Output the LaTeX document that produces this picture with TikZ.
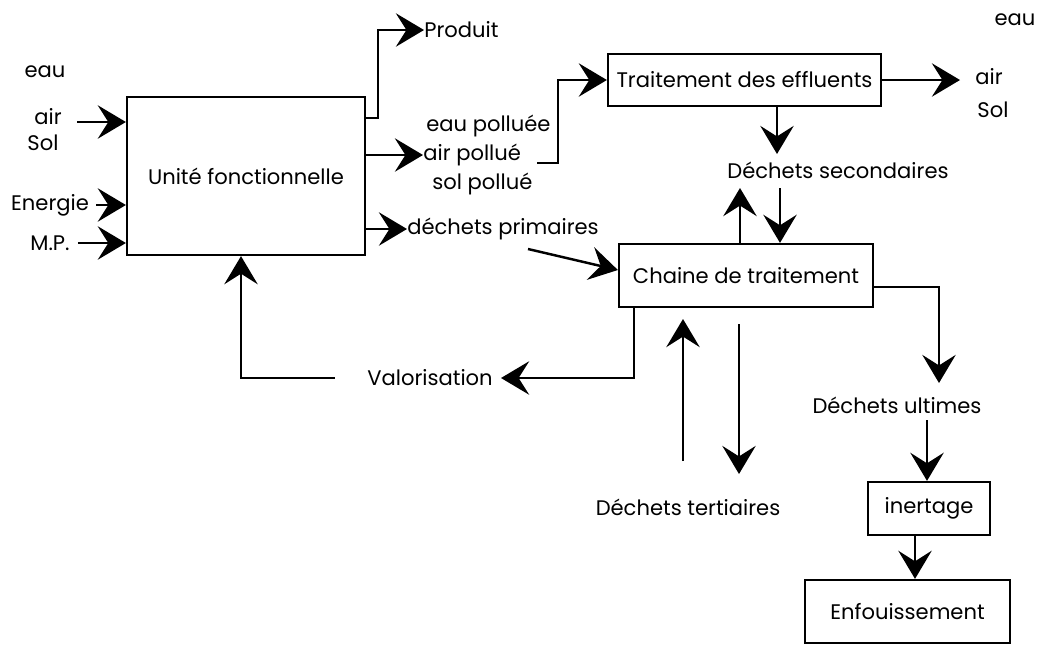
\documentclass[tikz,border=0pt]{standalone}
\usepackage{fontspec}
\setmainfont{Poppins}
\usetikzlibrary{arrows.meta}
\begin{document}
\begin{tikzpicture}[x=0.02cm,y=-0.02cm,
  box/.style={draw, line width=1.3pt, inner sep=0pt, font=\fontsize{12}{14}\selectfont},
  lbl/.style={inner sep=0pt, font=\fontsize{12}{14}\selectfont},
  arr/.style={line width=1.4pt, -{Stealth[length=16pt,width=19pt,inset=6pt]}},
  ln/.style={line width=1.3pt}]
\useasboundingbox (0,0) rectangle (1038,647);
% boxes
\node[box, minimum width=4.76cm, minimum height=3.16cm] (uf) at (246,176) {Unité fonctionnelle};
\node[box, minimum width=5.46cm, minimum height=1.04cm] (te) at (744.5,80) {Traitement des effluents};
\node[box, minimum width=5.08cm, minimum height=1.26cm] (ch) at (746,275.5) {Chaine de traitement};
\node[box, minimum width=2.44cm, minimum height=1.06cm] (ine) at (929,508.5) {inertage};
\node[box, minimum width=4.1cm, minimum height=1.26cm] (enf) at (907.5,611.5) {Enfouissement};
% labels
\node[lbl] (eauL) at (45,72) {eau};
\node[lbl] (airL) at (48,117) {air};
\node[lbl] (solL) at (43,143) {Sol};
\node[lbl] (en) at (50,205) {Energie};
\node[lbl] (mp) at (50,243) {M.P.};
\node[lbl, anchor=west] (prod) at (424,30) {Produit};
\node[lbl, anchor=west] (ep) at (426,126) {eau polluée};
\node[lbl, anchor=west] (ap) at (423,155) {air pollué};
\node[lbl, anchor=west] (sp) at (432,184) {sol pollué};
\node[lbl, anchor=west] (dp) at (407,229) {déchets primaires};
\node[lbl] (eauR) at (1015,20) {eau};
\node[lbl] (airR) at (989,77) {air};
\node[lbl] (solR) at (993,110) {Sol};
\node[lbl] (ds) at (838,170) {Déchets secondaires};
\node[lbl] (val) at (430,378) {Valorisation};
\node[lbl] (dt) at (688,507) {Déchets tertiaires};
\node[lbl] (du) at (897,405) {Déchets ultimes};
% free ends
\coordinate (in1) at (77,122);
\coordinate (outR) at (960,80);
\coordinate (tdown) at (777,154);
\coordinate (sec1) at (740,188);
\coordinate (sec2) at (780,188);
\coordinate (ter1) at (683,461);
\coordinate (ter1t) at (683,319);
\coordinate (ter2) at (739,324);
\coordinate (ter2t) at (739,474);
\coordinate (dps) at (528,249);
% inputs
\draw[arr] (in1) -- (in1 -| uf.west);
\draw[arr] ([xshift=0.14cm]en.east) -- (en.east -| uf.west);
\draw[arr] ([xshift=0.16cm]mp.east) -- (mp.east -| uf.west);
% outputs of uf
\draw[arr] (uf.east |- 0,118) -- (378,118) -- (378,30) -- (prod.west);
\draw[arr] (uf.east |- ap.west) -- (ap.west);
\draw[arr] (uf.east |- dp.west) -- (dp.west);
\draw[arr] (537,163) -- (558,163) -- (558,80) -- (te.west);
% effluents
\draw[arr] (te.east) -- (outR);
\draw[arr] (te.south -| tdown) -- (tdown);
% chaine
\draw[arr] (dps) -- (ch.west |- 0,270);
\draw[arr] (ch.north -| sec1) -- (sec1);
\draw[arr] (sec2) -- (ch.north -| sec2);
\draw[arr] (ch.south -| 634,0) -- (634,378) -- ([xshift=0.16cm]val.east);
\draw[arr] ([xshift=-0.64cm]val.west) -- (241,378) -- (uf.south -| 241,0);
\draw[arr] (ter1) -- (ter1t);
\draw[arr] (ter2) -- (ter2t);
\draw[arr] (ch.east |- 0,287) -- (939,287) -- (939,383);
\draw[arr] (927,420) -- (ine.north -| 927,0);
\draw[arr] (ine.south -| 915,0) -- (enf.north -| 915,0);
\end{tikzpicture}
\end{document}
